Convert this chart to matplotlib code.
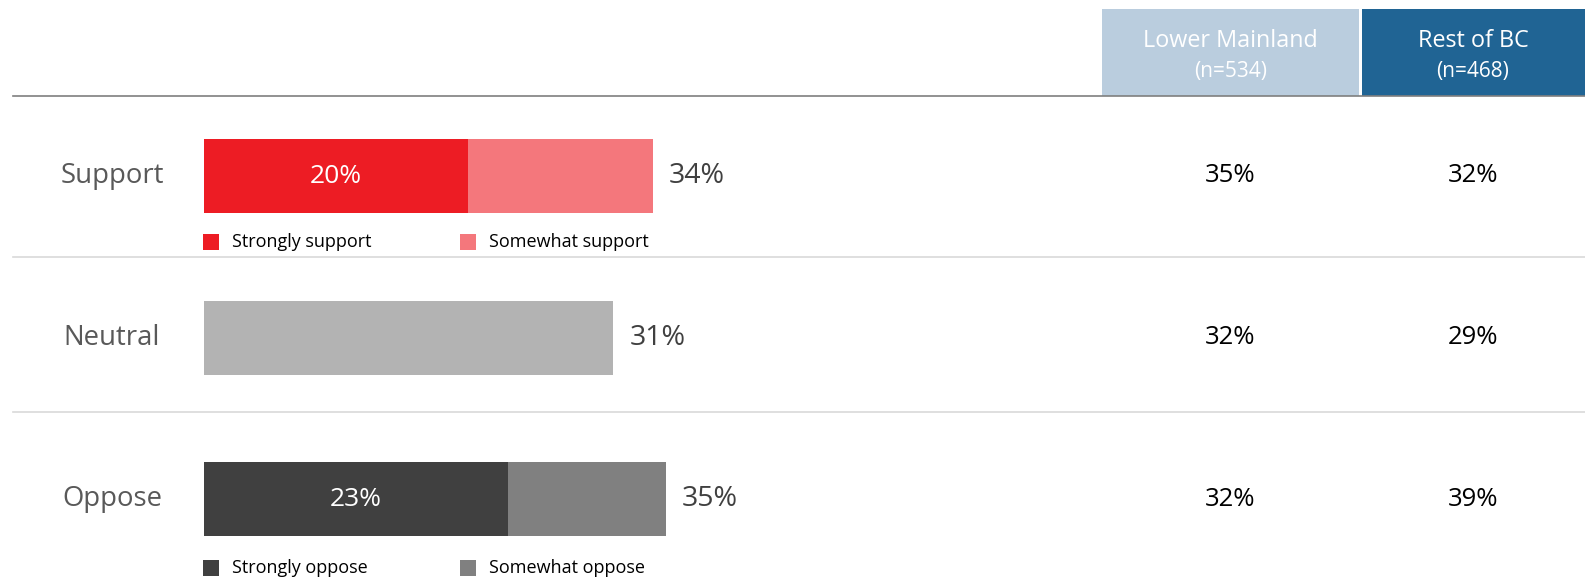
import matplotlib.pyplot as plt
from matplotlib.patches import Rectangle

plt.rcParams['font.family'] = ['Open Sans', 'DejaVu Sans']

# data
categories = ['Support', 'Neutral', 'Oppose']
first_part = [20, 31, 23]      # strongly support / neutral / strongly oppose
second_part = [14, 0, 12]      # somewhat support / - / somewhat oppose
totals = [34, 31, 35]
inner_labels = ['20%', '', '23%']
regions = ['Lower Mainland', 'Rest of BC']
region_n = ['(n=534)', '(n=468)']
lower_mainland = [35, 32, 32]
rest_of_bc = [32, 29, 39]
legend_rows = [('Strongly support', 'Somewhat support'), None, ('Strongly oppose', 'Somewhat oppose')]

first_colors = ['#ED1C24', '#B3B3B3', '#404040']
second_colors = ['#F4777C', '#B3B3B3', '#808080']
header_colors = ['#BACDDE', '#206494']
header_text = ['#FFFFFF', '#FFFFFF']

W, H = 1585, 582
fig = plt.figure(figsize=(W / 100, H / 100), dpi=100)

# overlay axes in pixel units for layout elements
ov = fig.add_axes([0, 0, 1, 1])
ov.set_xlim(0, W)
ov.set_ylim(H, 0)
ov.axis('off')

# bar axes: 13.2 px per percent, starting at x=204
px_per_pct = 13.2
x0 = 204
xmax = 60
ax = fig.add_axes([x0 / W, 1 - 579.75 / H, xmax * px_per_pct / W, (579.75 - 95.25) / H])
ax.set_xlim(0, xmax)
ax.set_ylim(2.5, -0.5)
ax.axis('off')
ax.patch.set_alpha(0)

y = range(len(categories))
ax.barh(y, first_part, height=74 / 161.5, color=first_colors)
ax.barh(y, second_part, left=first_part, height=74 / 161.5, color=second_colors)

for i, cat in enumerate(categories):
    ax.annotate(f'{totals[i]}%', (totals[i], i), xytext=(16, 0), textcoords='offset pixels',
                ha='left', va='center', fontsize=20.5, color='#404040')
    if inner_labels[i]:
        ax.text(first_part[i] / 2, i, inner_labels[i], ha='center', va='center',
                fontsize=19, color='white')
    ax.annotate(cat, (0, i), xytext=(-92, 0), textcoords='offset pixels',
                ha='center', va='center', fontsize=19.8, color='#595959')

# header boxes
boxes = [(1102, 1359), (1362, 1585)]
centers = []
for (l, r), name, n, c, tc in zip(boxes, regions, region_n, header_colors, header_text):
    ov.add_patch(Rectangle((l, 9), r - l, 87, color=c, lw=0))
    cx = (l + r) / 2 if r < W else 1473
    centers.append(cx)
    ov.text(cx, 41, name, ha='center', va='center', fontsize=16.8, color=tc)
    ov.text(cx, 71, n, ha='center', va='center', fontsize=15, color=tc)

# region values
row_y = [176, 338, 499]
for i in range(len(categories)):
    ov.text(centers[0], row_y[i], f'{lower_mainland[i]}%', ha='center', va='center',
            fontsize=18.5, color='black')
    ov.text(centers[1], row_y[i], f'{rest_of_bc[i]}%', ha='center', va='center',
            fontsize=18.5, color='black')

# rules
ov.plot([13, W], [96, 96], color='#7F7F7F', lw=1.2)
ov.plot([13, W], [257, 257], color='#D9D9D9', lw=1.2)
ov.plot([13, W], [412, 412], color='#D9D9D9', lw=1.2)

# legends
legend_y = [242, None, 568]
for i, row in enumerate(legend_rows):
    if row is None:
        continue
    for j, (lab, col) in enumerate(zip(row, [first_colors[i], second_colors[i]])):
        sx = 203 + j * 257
        ov.add_patch(Rectangle((sx, legend_y[i] - 8), 16, 16, color=col, lw=0))
        ov.text(sx + 29, legend_y[i], lab, ha='left', va='center', fontsize=13, color='black')

fig.savefig('out.png', dpi=100)
